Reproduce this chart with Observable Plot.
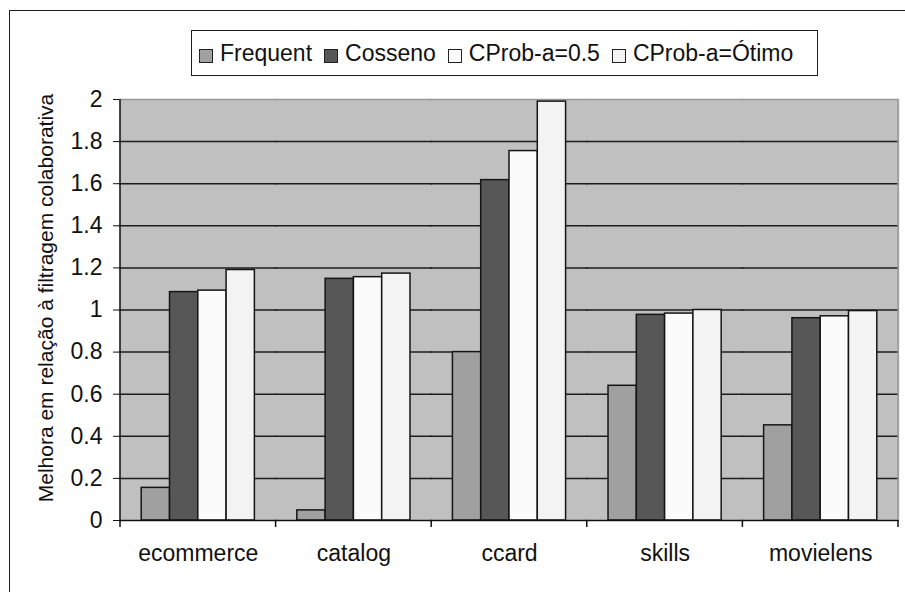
<!DOCTYPE html>
<html>
<head>
<meta charset="utf-8">
<script src="https://cdn.jsdelivr.net/npm/d3@7"></script>
<script src="https://cdn.jsdelivr.net/npm/@observablehq/plot@0.6"></script>
<style>
  body { margin: 0; background: #fff; font-family: "Liberation Sans", Arial, sans-serif; color: #111; }
  #wrap { position: relative; width: 905px; height: 592px; overflow: hidden; }
  #border { position: absolute; left: 9px; top: 10px; width: 1000px; height: 1000px; border: 1.5px solid #1e1e1e; }
  #legend { position: absolute; left: 191px; top: 30px; width: 627px; height: 46px; box-sizing: border-box;
            border: 1.5px solid #1e1e1e; display: flex; align-items: center; padding-left: 7px;
            font-size: 23px; white-space: nowrap; background: #fff; }
  .item { display: flex; align-items: center; margin-right: 12px; }
  .sw { width: 14px; height: 14px; border: 1.4px solid #222; box-sizing: border-box; margin-right: 7px; margin-top: 6px; }
  #ytitle { position: absolute; left: 46px; top: 298px; transform: translate(-50%, -50%) rotate(-90deg);
            font-size: 21px; white-space: nowrap; }
  #chart { position: absolute; left: 0; top: 0; }
</style>
</head>
<body>
<div id="wrap">
  <div id="border"></div>
  <div id="chart"></div>
  <div id="legend"></div>
  <div id="ytitle"></div>
</div>
<script>
// Datasets (groups on the horizontal axis)
const categories = ["ecommerce", "catalog", "ccard", "skills", "movielens"];
// Methods compared within each dataset
const series = ["Frequent", "Cosseno", "CProb-a=0.5", "CProb-a=Ótimo"];
const seriesFill = ["#a0a0a0", "#575757", "#fbfbfb", "#f3f3f3"];

// Improvement relative to collaborative filtering, one value per dataset
const frequent   = [0.155, 0.048, 0.800, 0.640, 0.452];
const cosseno    = [1.085, 1.148, 1.617, 0.977, 0.961];
const cprob05    = [1.092, 1.156, 1.755, 0.983, 0.970];
const cprobOtimo = [1.190, 1.173, 1.990, 1.000, 0.995];

const yTicks = [0, 0.2, 0.4, 0.6, 0.8, 1, 1.2, 1.4, 1.6, 1.8, 2];
const yTitle = "Melhora em relação à filtragem colaborativa";

const valuesBySeries = [frequent, cosseno, cprob05, cprobOtimo];
const rows = categories.flatMap((category, i) =>
  series.map((s, j) => ({category, series: s, value: valuesBySeries[j][i]}))
);

// Facets share edges; a slight overlap keeps the background and grid continuous
const overlap = -0.75;

const chart = Plot.plot({
  width: 905,
  height: 592,
  marginLeft: 120,
  marginTop: 99,
  marginRight: 7,
  marginBottom: 72,
  style: {fontFamily: "'Liberation Sans', Arial, sans-serif", fontSize: "23px", color: "#111", background: "transparent"},
  fx: {domain: categories, padding: 0, round: false, label: null, tickSize: 0, tickPadding: 24, axis: "bottom"},
  x: {domain: series, paddingInner: 0, paddingOuter: 0.75, round: false, axis: null},
  y: {domain: [0, 2], ticks: yTicks, tickSize: 7, tickPadding: 11, tickFormat: d => String(d), label: null},
  color: {domain: series, range: seriesFill},
  marks: [
    Plot.frame({fill: "#c0c0c0", stroke: null, insetLeft: overlap, insetRight: overlap}),
    Plot.ruleY(yTicks.filter(t => t > 0 && t < 2), {stroke: "#1c1c1c", strokeWidth: 1.5, insetLeft: overlap, insetRight: overlap}),
    Plot.ruleY([2], {stroke: "#999", strokeWidth: 1.5, insetLeft: overlap, insetRight: overlap}),
    Plot.barY(rows, {fx: "category", x: "series", y: "value", fill: "series", stroke: "#151515", strokeWidth: 1.5}),
    Plot.ruleY([0], {stroke: "#111", strokeWidth: 1.5, insetLeft: overlap, insetRight: overlap})
  ]
});
document.getElementById("chart").append(chart);

// Category boundary ticks under the baseline, the value axis line and the right edge of the plot area
const fx = chart.scale("fx");
const y = chart.scale("y");
const step = fx.step ?? (fx.range[1] - fx.range[0]) / categories.length;
const edges = categories.map(c => fx.apply(c)).concat([fx.apply(categories[categories.length - 1]) + step]);
const y0 = y.apply(0), y2 = y.apply(2);
const svg = d3.select(chart);
svg.append("line")
  .attr("x1", edges[edges.length - 1]).attr("x2", edges[edges.length - 1])
  .attr("y1", y2).attr("y2", y0)
  .attr("stroke", "#999").attr("stroke-width", 1.5);
svg.append("line")
  .attr("x1", edges[0]).attr("x2", edges[0])
  .attr("y1", y2).attr("y2", y0)
  .attr("stroke", "#111").attr("stroke-width", 1.5);
svg.append("g")
  .selectAll("line").data(edges).join("line")
  .attr("x1", d => d).attr("x2", d => d)
  .attr("y1", y0).attr("y2", y0 + 7)
  .attr("stroke", "#111").attr("stroke-width", 1.5);

// Legend
const legend = d3.select("#legend");
series.forEach((s, i) => {
  const item = legend.append("div").attr("class", "item");
  item.append("div").attr("class", "sw").style("background", seriesFill[i]);
  item.append("span").text(s);
});
document.getElementById("ytitle").textContent = yTitle;
</script>
</body>
</html>
